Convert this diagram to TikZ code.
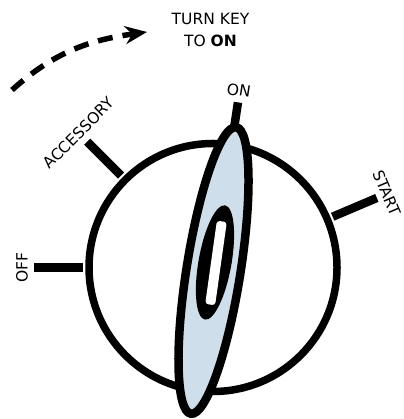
\documentclass[tikz,border=0pt]{standalone}
\usepackage{fontspec}
\setmainfont{DejaVu Sans}
\usetikzlibrary{arrows.meta,calc}
\definecolor{keyblue}{RGB}{206,222,234}

\begin{document}
\begin{tikzpicture}[x=1pt,y=1pt,>=Stealth,font=\fontsize{15.5}{22}\selectfont,
 tick/.style={line width=8.5pt},
 lbl/.style={inner sep=0pt},
 turn/.style={line width=5.5pt,dash pattern=on 15pt off 10pt,-{Stealth[length=22pt,width=18pt]}}]
\useasboundingbox (0,0) rectangle (403,419);
\coordinate (c) at (213,151.5); \coordinate (k) at (213.5,148.5); \coordinate (s) at (215,156.5);
% dial
\draw[line width=7.5pt] (c) circle (124);
\foreach \a/\n/\r in {180/off/179,135/acc/178,23/start/178,81.4/on/167}{
  \coordinate (\n-in) at ($(c)+(\a:130)$); \coordinate (\n-out) at ($(c)+(\a:\r)$);
  \draw[tick] (\n-in) -- (\n-out);}
\node[lbl,rotate=90] (offlbl) at ($(c)+(180:191)$) {OFF};
\node[lbl,rotate=45] (acclbl) at ($(c)+(135:190)$) {ACCESSORY};
\node[lbl,rotate=-9] (onlbl) at ($(c)+(81.7:179)$) {ON};
\node[lbl,rotate=-67] (startlbl) at ($(c)+(23.2:189)$) {START};
% key
\draw[line width=8.5pt,fill=keyblue,rotate around={81:(k)}] (k) ellipse [x radius=145,y radius=27];
\fill[rotate around={80:(s)}] (s) ellipse [x radius=58,y radius=16.5];
\node[fill=white,rounded corners=3pt,minimum width=84pt,minimum height=10pt,inner sep=0pt,rotate=82] (slot) at (216,156) {};
% hint
\node[lbl,align=center] (title) at (210.5,389) {TURN KEY\\TO \textbf{ON}};
\coordinate (arrstart) at (12,329); \coordinate (arrend) at (147,387);
\draw[turn] (arrstart) to[out=42,in=188] (arrend);
\end{tikzpicture}
\end{document}
